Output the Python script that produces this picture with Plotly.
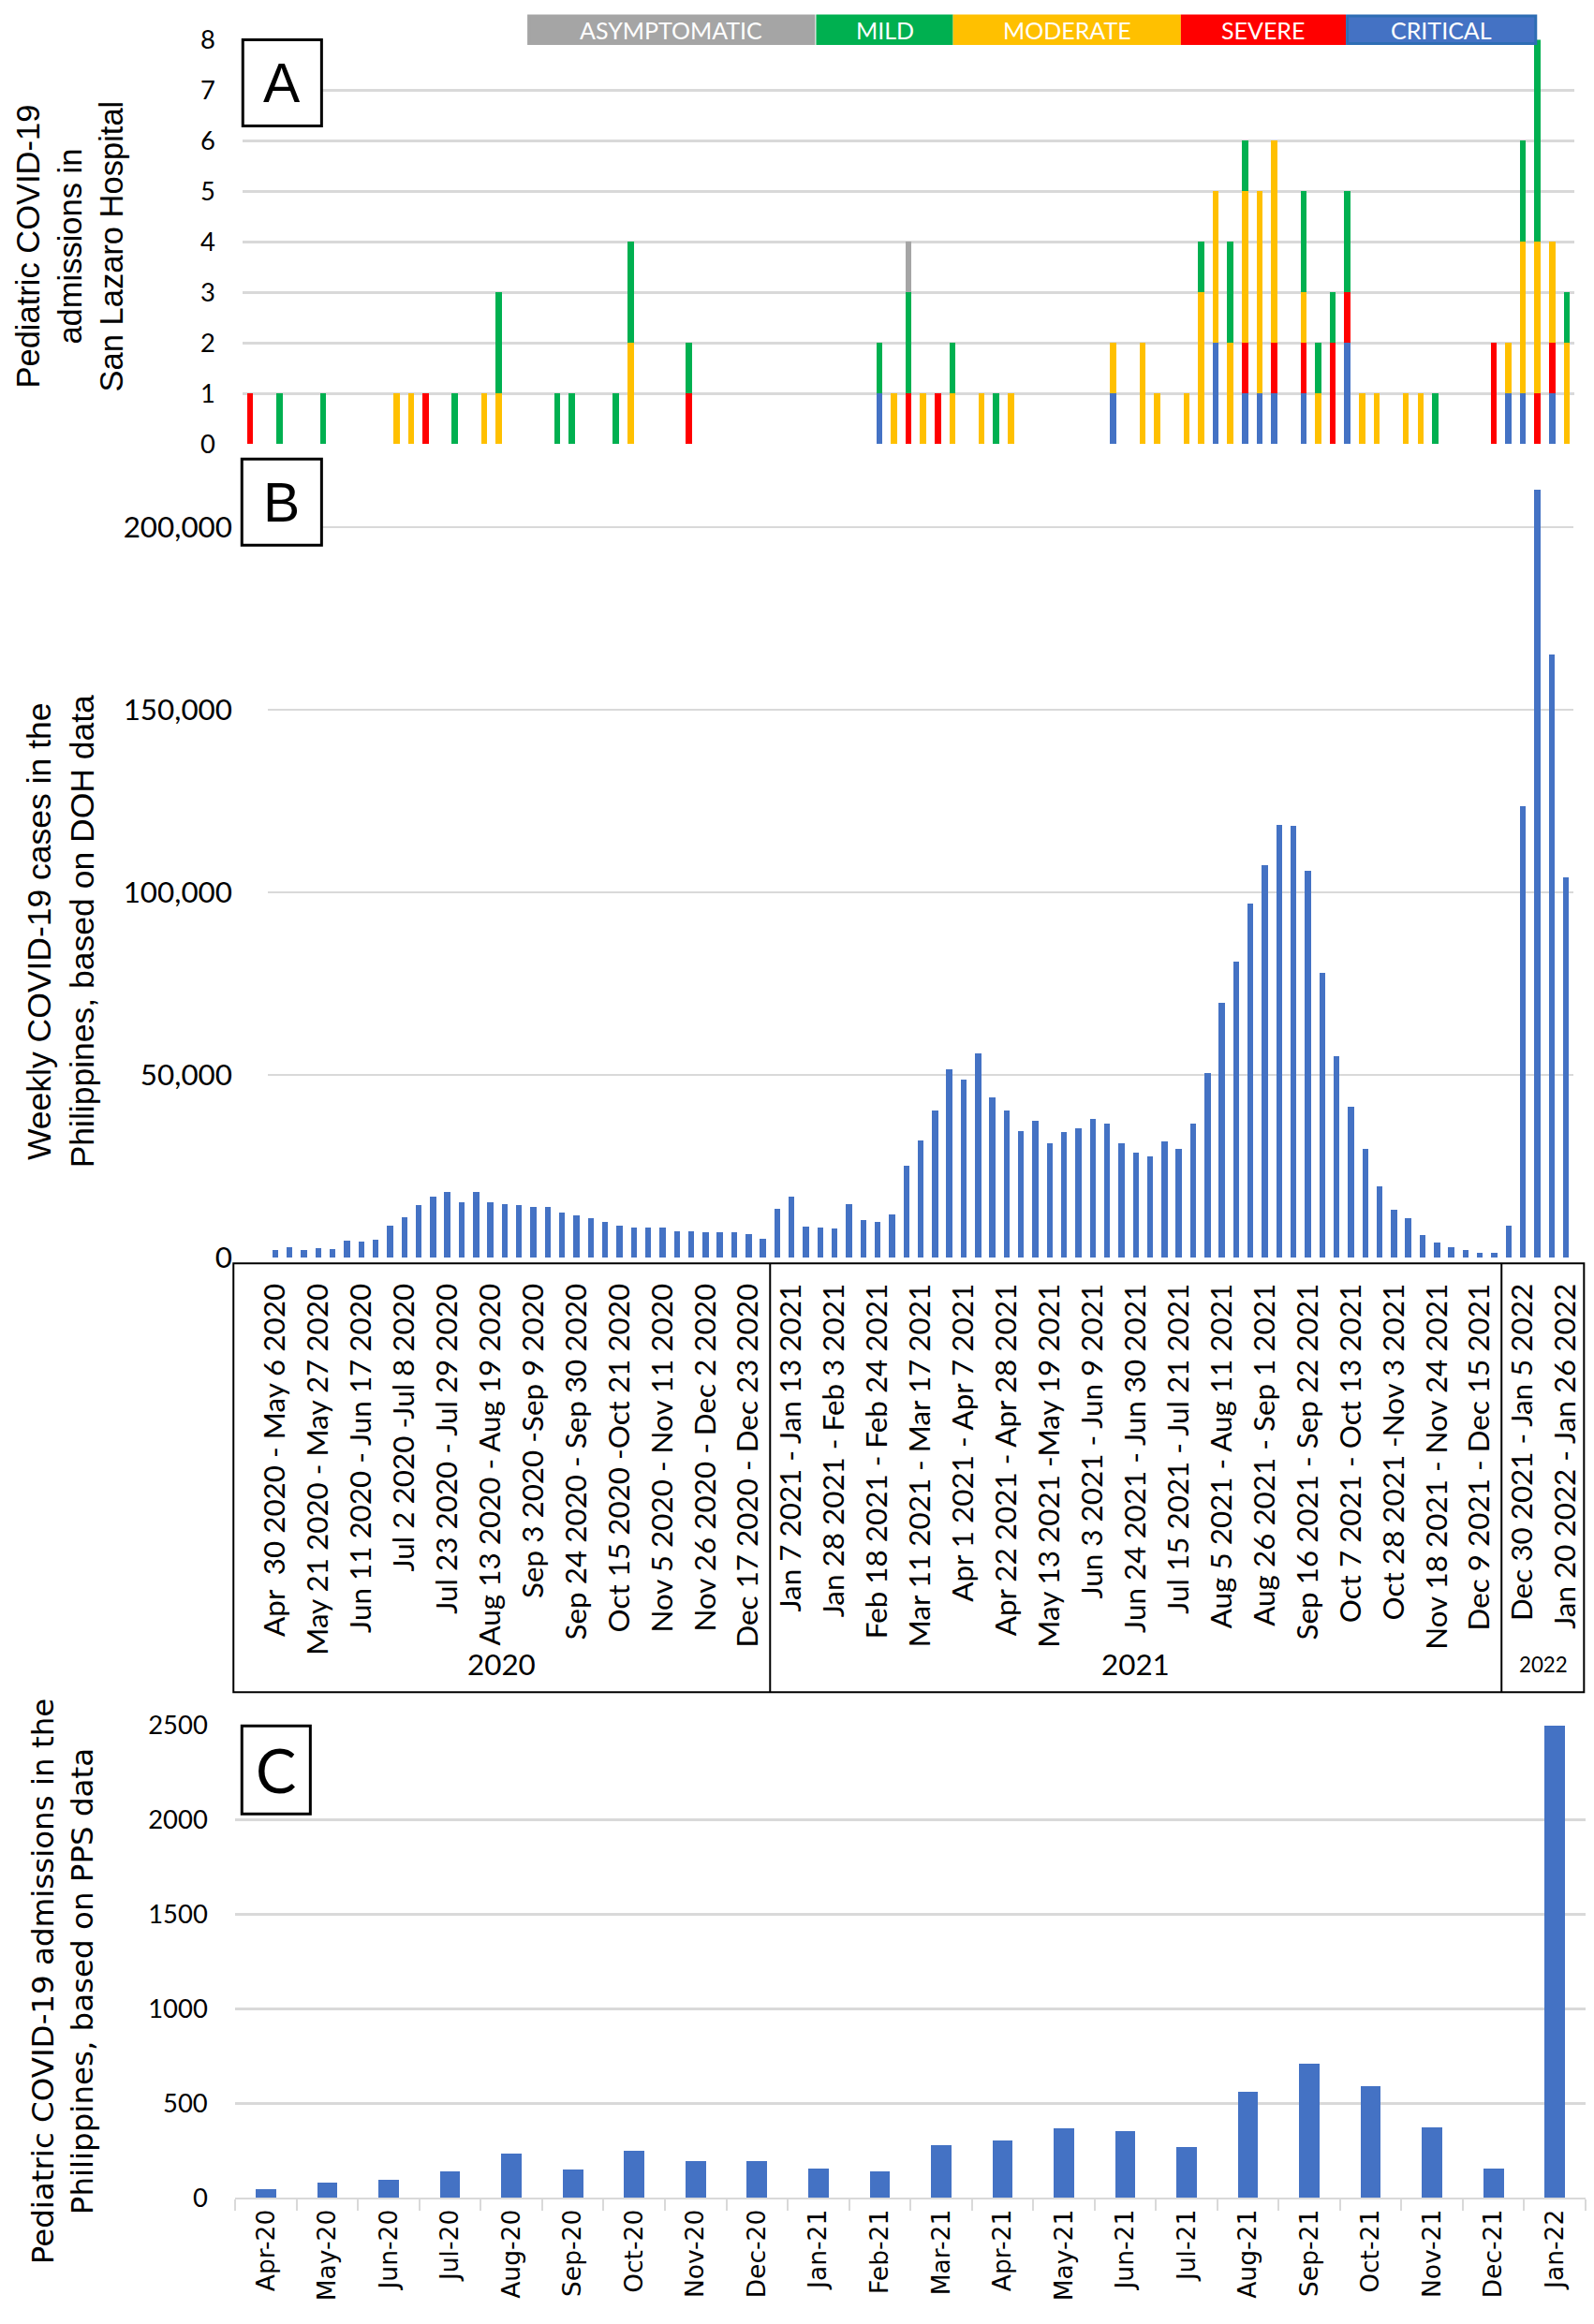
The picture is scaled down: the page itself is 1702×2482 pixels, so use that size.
import plotly.graph_objects as go

W, H = 1702, 2482

# ---------------- data ----------------
# Panel A: weekly pediatric admissions in San Lazaro Hospital by severity (91 weeks)
critical = [0, 0, 0, 0, 0, 0, 0, 0, 0, 0,
            0, 0, 0, 0, 0, 0, 0, 0, 0, 0,
            0, 0, 0, 0, 0, 0, 0, 0, 0, 0,
            0, 0, 0, 0, 0, 0, 0, 0, 0, 0,
            0, 0, 0, 1, 0, 0, 0, 0, 0, 0,
            0, 0, 0, 0, 0, 0, 0, 0, 0, 1,
            0, 0, 0, 0, 0, 0, 2, 0, 1, 1,
            1, 0, 1, 0, 0, 2, 0, 0, 0, 0,
            0, 0, 0, 0, 0, 0, 1, 1, 0, 1,
            0]
severe = [1, 0, 0, 0, 0, 0, 0, 0, 0, 0,
          0, 0, 1, 0, 0, 0, 0, 0, 0, 0,
          0, 0, 0, 0, 0, 0, 0, 0, 0, 0,
          1, 0, 0, 0, 0, 0, 0, 0, 0, 0,
          0, 0, 0, 0, 0, 1, 0, 1, 0, 0,
          0, 0, 0, 0, 0, 0, 0, 0, 0, 0,
          0, 0, 0, 0, 0, 0, 0, 0, 1, 0,
          1, 0, 1, 0, 2, 1, 0, 0, 0, 0,
          0, 0, 0, 0, 0, 2, 0, 0, 1, 1,
          0]
moderate = [0, 0, 0, 0, 0, 0, 0, 0, 0, 0,
            1, 1, 0, 0, 0, 0, 1, 1, 0, 0,
            0, 0, 0, 0, 0, 0, 2, 0, 0, 0,
            0, 0, 0, 0, 0, 0, 0, 0, 0, 0,
            0, 0, 0, 0, 1, 0, 1, 0, 1, 0,
            1, 0, 1, 0, 0, 0, 0, 0, 0, 1,
            0, 2, 1, 0, 1, 3, 3, 2, 3, 4,
            4, 0, 1, 1, 0, 0, 1, 1, 0, 1,
            1, 0, 0, 0, 0, 0, 1, 3, 3, 2,
            2]
mild = [0, 0, 1, 0, 0, 1, 0, 0, 0, 0,
        0, 0, 0, 0, 1, 0, 0, 2, 0, 0,
        0, 1, 1, 0, 0, 1, 2, 0, 0, 0,
        1, 0, 0, 0, 0, 0, 0, 0, 0, 0,
        0, 0, 0, 1, 0, 2, 0, 0, 1, 0,
        0, 1, 0, 0, 0, 0, 0, 0, 0, 0,
        0, 0, 0, 0, 0, 1, 0, 2, 1, 0,
        0, 0, 2, 1, 1, 2, 0, 0, 0, 0,
        0, 1, 0, 0, 0, 0, 0, 2, 4, 0,
        1]
asymptomatic = [0] * 45 + [1] + [0] * 45

severity_names = ["CRITICAL", "SEVERE", "MODERATE", "MILD", "ASYMPTOMATIC"]
severity_colors = ["#4472C4", "#FF0000", "#FFC000", "#00B050", "#A5A5A5"]
severity_values = [critical, severe, moderate, mild, asymptomatic]

# Panel B: weekly COVID-19 cases in the Philippines (DOH)
cases = [2000, 2900, 2000, 2600, 2300, 4600, 4300, 5000, 8900, 11200,
         14500, 16700, 17900, 15100, 17900, 15100, 14800, 14500, 13800, 14000,
         12400, 11500, 10800, 9700, 8900, 8200, 8200, 8200, 7200, 7200,
         6900, 6900, 6900, 6600, 5300, 13400, 16700,
         8500, 8200, 7900, 14800, 10200, 9700, 11800, 25100, 32100, 40300,
         51600, 48700, 55900, 43800, 40300, 34600, 37500, 31300, 34400, 35400,
         37900, 36700, 31300, 28700, 27800, 31800, 29700, 36700, 50600, 69700,
         81100, 97000, 107400, 118500, 118300, 105800, 78000, 55200, 41400, 29700,
         19600, 13100, 10800, 6200, 4200, 3000, 2000, 1400, 1400, 8900,
         123500, 210200, 165000, 104000]

week_labels = [
    "Apr  30 2020 - May 6 2020", "May 21 2020 - May 27 2020", "Jun 11 2020 - Jun 17 2020",
    "Jul 2 2020 -Jul 8 2020", "Jul 23 2020 - Jul 29 2020", "Aug 13 2020 - Aug 19 2020",
    "Sep 3 2020 -Sep 9 2020", "Sep 24 2020 - Sep 30 2020", "Oct 15 2020 -Oct 21 2020",
    "Nov 5 2020 - Nov 11 2020", "Nov 26 2020 - Dec 2 2020", "Dec 17 2020 - Dec 23 2020",
    "Jan 7 2021 - Jan 13 2021", "Jan 28 2021 - Feb 3 2021", "Feb 18 2021 - Feb 24 2021",
    "Mar 11 2021 - Mar 17 2021", "Apr 1 2021 - Apr 7 2021", "Apr 22 2021 - Apr 28 2021",
    "May 13 2021 -May 19 2021", "Jun 3 2021 - Jun 9 2021", "Jun 24 2021 - Jun 30 2021",
    "Jul 15 2021 - Jul 21 2021", "Aug 5 2021 - Aug 11 2021", "Aug 26 2021 - Sep 1 2021",
    "Sep 16 2021 - Sep 22 2021", "Oct 7 2021 - Oct 13 2021", "Oct 28 2021 -Nov 3 2021",
    "Nov 18 2021 - Nov 24 2021", "Dec 9 2021 - Dec 15 2021", "Dec 30 2021 - Jan 5 2022",
    "Jan 20 2022 - Jan 26 2022",
]
year_labels = ["2020", "2021", "2022"]
year_weeks = [35, 51, 5]

# Panel C: monthly pediatric admissions (PPS)
months = ["Apr-20", "May-20", "Jun-20", "Jul-20", "Aug-20", "Sep-20", "Oct-20", "Nov-20",
          "Dec-20", "Jan-21", "Feb-21", "Mar-21", "Apr-21", "May-21", "Jun-21", "Jul-21",
          "Aug-21", "Sep-21", "Oct-21", "Nov-21", "Dec-21", "Jan-22"]
pps_admissions = [47, 82, 97, 140, 233, 147, 246, 194, 196, 153, 140, 280, 304, 366,
                  353, 269, 562, 707, 591, 373, 153, 2495]

# ---------------- figure ----------------
GRID = "#D9D9D9"
BLUE = "#4472C4"
CAL = "Lato, Carlito, Calibri, sans-serif"
ARIAL = "Liberation Sans, Arial, sans-serif"
DEJA = "DejaVu Sans, Verdana, sans-serif"

# the captured page comes out slightly shrunk and shifted; positions below are
# given in target-picture pixels and mapped back to figure pixels here
K = 0.986
OX, OY = 14.0, 17.6


def px(x):
    return min(max((x - OX) / K / W, 0.0), 1.0)


def py(y):
    return min(max(1 - (y - OY) / K / H, 0.0), 1.0)


def fs(size):
    return round(size / K, 1)


fig = go.Figure()

for name, color, vals in zip(severity_names, severity_colors, severity_values):
    fig.add_trace(go.Bar(x=list(range(len(vals))), y=vals, name=name, marker_color=color,
                         marker_line_width=0, width=0.42, xaxis="x", yaxis="y"))

fig.add_trace(go.Bar(x=list(range(len(cases))), y=cases, marker_color=BLUE,
                     marker_line_width=0, width=0.42, xaxis="x2", yaxis="y2"))

fig.add_trace(go.Bar(x=months, y=pps_admissions, marker_color=BLUE,
                     marker_line_width=0, width=0.33, xaxis="x3", yaxis="y3"))

fig.update_layout(
    width=W, height=H, margin=dict(l=0, r=0, t=0, b=0),
    paper_bgcolor="white", plot_bgcolor="white",
    barmode="stack", showlegend=False,
    xaxis=dict(domain=[px(260), px(1680)], range=[-0.5, 90.5], anchor="y",
               showticklabels=False, showgrid=False, zeroline=False, ticks=""),
    yaxis=dict(domain=[py(475), py(43)], range=[0, 8], dtick=1, anchor="x",
               showgrid=True, gridcolor=GRID, gridwidth=3, zeroline=False,
               ticks="outside", ticklen=23, tickcolor="rgba(0,0,0,0)",
               tickfont=dict(family=CAL, size=fs(27), color="black")),
    xaxis2=dict(domain=[px(287), px(1679)], range=[-0.5, 90.5], anchor="y2",
                tickmode="array", tickvals=list(range(0, len(cases), 3)), ticktext=week_labels,
                tickangle=-90, ticks="outside", ticklen=14, tickcolor="rgba(0,0,0,0)",
                tickfont=dict(family=CAL, size=fs(31), color="black"),
                showgrid=False, zeroline=False),
    yaxis2=dict(domain=[py(1344), py(505)], range=[0, 215000], anchor="x2",
                tickmode="array", tickvals=[0, 50000, 100000, 150000, 200000], tickformat=",d",
                showgrid=True, gridcolor=GRID, gridwidth=2, zeroline=False,
                ticks="outside", ticklen=31, tickcolor="rgba(0,0,0,0)",
                tickfont=dict(family=CAL, size=fs(31), color="black")),
    xaxis3=dict(domain=[px(252), px(1698)], anchor="y3", type="category",
                showline=True, linecolor=GRID, linewidth=2,
                ticks="outside", tickson="boundaries", ticklen=12, tickcolor=GRID, tickwidth=2,
                tickangle=-90, tickfont=dict(family=DEJA, size=26.5, color="black"),
                showgrid=False, zeroline=False),
    yaxis3=dict(domain=[py(2348), py(1843)], range=[0, 2500], dtick=500, anchor="x3",
                showgrid=True, gridcolor=GRID, gridwidth=3, zeroline=False,
                ticks="outside", ticklen=23, tickcolor="rgba(0,0,0,0)",
                tickfont=dict(family=CAL, size=fs(27), color="black")),
)

shapes = []
annotations = []

# severity legend drawn as coloured boxes along the top edge
legend_boxes = [(565, 869), (873, 1016), (1019, 1259), (1262, 1435), (1438, 1639)]
legend_bottom = 1 - 30 / H
for (x0, x1), name, color in zip(legend_boxes, severity_names[::-1], severity_colors[::-1]):
    border = "#2E6DB4" if name == "CRITICAL" else color
    shapes.append(dict(type="rect", xref="paper", yref="paper", x0=px(x0), x1=px(x1),
                       y0=legend_bottom, y1=1.0, fillcolor=color,
                       line=dict(color=border, width=3), layer="above"))
    annotations.append(dict(text=name, xref="paper", yref="paper", x=px((x0 + x1) / 2),
                            y=(1 + legend_bottom) / 2, xanchor="center", yanchor="middle",
                            showarrow=False, font=dict(family=CAL, size=25, color="white")))

# panel letter boxes
for letter, (x0, x1, y0, y1), fam, size in [("A", (260, 344, 43, 135), ARIAL, 58),
                                            ("B", (259, 344, 491, 583), ARIAL, 58),
                                            ("C", (259, 332, 1844, 1938), CAL, 64)]:
    shapes.append(dict(type="rect", xref="paper", yref="paper", x0=px(x0), x1=px(x1),
                       y0=py(y1), y1=py(y0), fillcolor="white", line=dict(color="black", width=3),
                       layer="above"))
    annotations.append(dict(text=letter, xref="paper", yref="paper", x=px((x0 + x1) / 2),
                            y=py((y0 + y1) / 2), xanchor="center", yanchor="middle",
                            showarrow=False, font=dict(family=fam, size=fs(size), color="black")))

# multi-level category box under panel B
shapes.append(dict(type="rect", xref="paper", yref="paper", x0=px(250), x1=0.999,
                   y0=py(1808), y1=py(1350), line=dict(color="black", width=2)))
edge = -0.5
seg_left = 250
for i, (yl, n) in enumerate(zip(year_labels, year_weeks)):
    edge += n
    if i < len(year_weeks) - 1:
        shapes.append(dict(type="line", xref="x2", yref="paper", x0=edge, x1=edge,
                           y0=py(1808), y1=py(1350), line=dict(color="black", width=2)))
        seg_right = 287 + (edge + 0.5) * (1679 - 287) / 91
    else:
        seg_right = 1692
    annotations.append(dict(text=yl, xref="paper", yref="paper", x=px((seg_left + seg_right) / 2),
                            y=py(1778), xanchor="center", yanchor="middle", showarrow=False,
                            font=dict(family=CAL, size=fs(31 if i < 2 else 22), color="black")))
    seg_left = seg_right

# axis titles
titles = [("Pediatric COVID-19<br>admissions in<br>San Lazaro Hospital", 76, 264, ARIAL, 34),
          ("Weekly COVID-19 cases in the<br>Philippines, based on DOH data", 66, 996, ARIAL, 35),
          ("Pediatric COVID-19 admissions in the<br>Philippines, based on PPS data", 68, 2117,
           DEJA, 32)]
for text, x, y, fam, size in titles:
    annotations.append(dict(text=text, xref="paper", yref="paper", x=px(x), y=py(y),
                            xanchor="center", yanchor="middle", textangle=-90, showarrow=False,
                            align="center", font=dict(family=fam, size=fs(size), color="black")))

fig.update_layout(shapes=shapes, annotations=annotations)

# drop the default page margin so the figure sits flush in the window
fig.write_html("out.html", config={"displayModeBar": False},
               post_script="document.body.style.margin='0';document.body.style.overflow='hidden';")
